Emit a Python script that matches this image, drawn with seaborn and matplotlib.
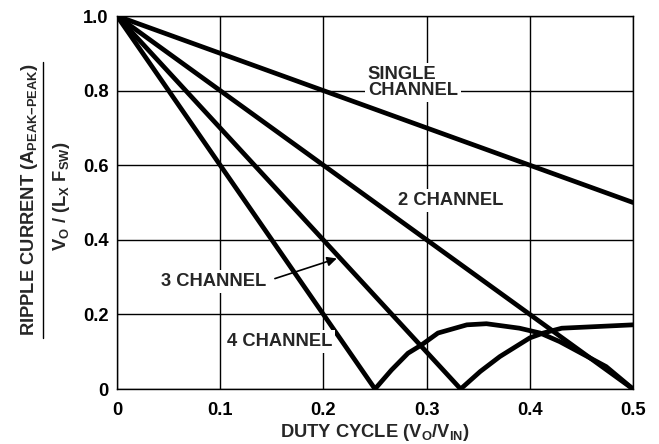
import matplotlib
matplotlib.use("Agg")
import matplotlib.pyplot as plt
from matplotlib.lines import Line2D
import seaborn as sns
import pandas as pd

# ---- data ----
single_x = [0.0, 0.5]
single_y = [1.0, 0.5]
two_x = [0.0, 0.5]
two_y = [1.0, 0.0]
three_x = [0.0, 0.333, 0.352, 0.371, 0.400, 0.413, 0.431, 0.5]
three_y = [1.0, 0.0, 0.047, 0.087, 0.137, 0.150, 0.163, 0.172]
four_x = [0.0, 0.25, 0.266, 0.282, 0.295, 0.311, 0.339, 0.358, 0.390, 0.410, 0.429, 0.474, 0.5]
four_y = [1.0, 0.0, 0.051, 0.096, 0.118, 0.150, 0.172, 0.175, 0.163, 0.150, 0.127, 0.060, 0.0]

x_ticks = [0, 0.1, 0.2, 0.3, 0.4, 0.5]
x_tick_labels = ["0", "0.1", "0.2", "0.3", "0.4", "0.5"]
y_ticks = [0, 0.2, 0.4, 0.6, 0.8, 1.0]
y_tick_labels = ["0", "0.2", "0.4", "0.6", "0.8", "1.0"]

series = {
    "SINGLE": (single_x, single_y),
    "2": (two_x, two_y),
    "3": (three_x, three_y),
    "4": (four_x, four_y),
}

sns.set_theme(style="white")
plt.rcParams['font.family'] = ['Liberation Sans', 'DejaVu Sans']
plt.rcParams['font.weight'] = 'bold'
plt.rcParams['mathtext.fontset'] = 'custom'
plt.rcParams['mathtext.rm'] = 'Liberation Sans:bold'
plt.rcParams['mathtext.it'] = 'Liberation Sans:bold'
plt.rcParams['mathtext.bf'] = 'Liberation Sans:bold'
plt.rcParams['mathtext.sf'] = 'Liberation Sans:bold'

FS = 13.2

fig = plt.figure(figsize=(6.59, 4.44), dpi=100)
ax = fig.add_axes([117/659, 1 - 389/444, (633-117)/659, (389-16)/444])

for name, (xs, ys) in series.items():
    df = pd.DataFrame({"x": xs, "y": ys})
    sns.lineplot(data=df, x="x", y="y", ax=ax, color="black", linewidth=3.4,
                 estimator=None, sort=False, zorder=3)

ax.set_xlim(0, 0.5)
ax.set_ylim(0, 1.0)
ax.set_xticks(x_ticks)
ax.set_xticklabels(x_tick_labels)
ax.set_yticks(y_ticks)
ax.set_yticklabels(y_tick_labels)
ax.tick_params(axis='both', length=0, labelsize=FS, colors='black')
ax.tick_params(axis='x', pad=9)
ax.tick_params(axis='y', pad=6)
for lbl in ax.get_xticklabels() + ax.get_yticklabels():
    lbl.set_fontweight('bold')
ax.set_xlabel("")
ax.set_ylabel("")
ax.grid(True, color="black", linewidth=1.0)
for s in ax.spines.values():
    s.set_color("black")
    s.set_linewidth(1.0)

box = dict(facecolor='white', edgecolor='none', pad=2)
ax.text(0.243, 0.822, "SINGLE\nCHANNEL", ha='left', va='center', fontsize=FS,
        fontweight='bold', bbox=box, zorder=4, linespacing=0.92)
ax.text(0.323, 0.506, "2 CHANNEL", ha='center', va='center', fontsize=FS,
        fontweight='bold', bbox=box, zorder=4)
ax.text(0.094, 0.288, "3 CHANNEL", ha='center', va='center', fontsize=FS,
        fontweight='bold', bbox=box, zorder=4)
ax.text(0.158, 0.127, "4 CHANNEL", ha='center', va='center', fontsize=FS,
        fontweight='bold', bbox=box, zorder=4)
ax.annotate("", xy=(0.213, 0.350), xytext=(0.153, 0.296),
            arrowprops=dict(arrowstyle='-|>', color='black', lw=1.2,
                            mutation_scale=14, shrinkA=0, shrinkB=0), zorder=5)

fig.text(375/659, 1 - 432/444, r"DUTY CYCLE (V$_\mathregular{O}$/V$_\mathregular{IN}$)",
         ha='center', va='center', fontsize=FS, fontweight='bold')

fig.text(30/659, 1 - 200/444, r"RIPPLE CURRENT (A$_\mathregular{PEAK{-}PEAK}$)",
         rotation=90, ha='center', va='center', fontsize=FS, fontweight='bold')
fig.text(62/659, 1 - 196/444, r"V$_\mathregular{O}$ / (L$_\mathregular{X}$ F$_\mathregular{SW}$)",
         rotation=90, ha='center', va='center', fontsize=FS, fontweight='bold')
fig.add_artist(Line2D([43/659, 43/659], [1 - 62/444, 1 - 338/444],
                      color='black', linewidth=1.0, transform=fig.transFigure))

fig.savefig("out.png", dpi=100)
